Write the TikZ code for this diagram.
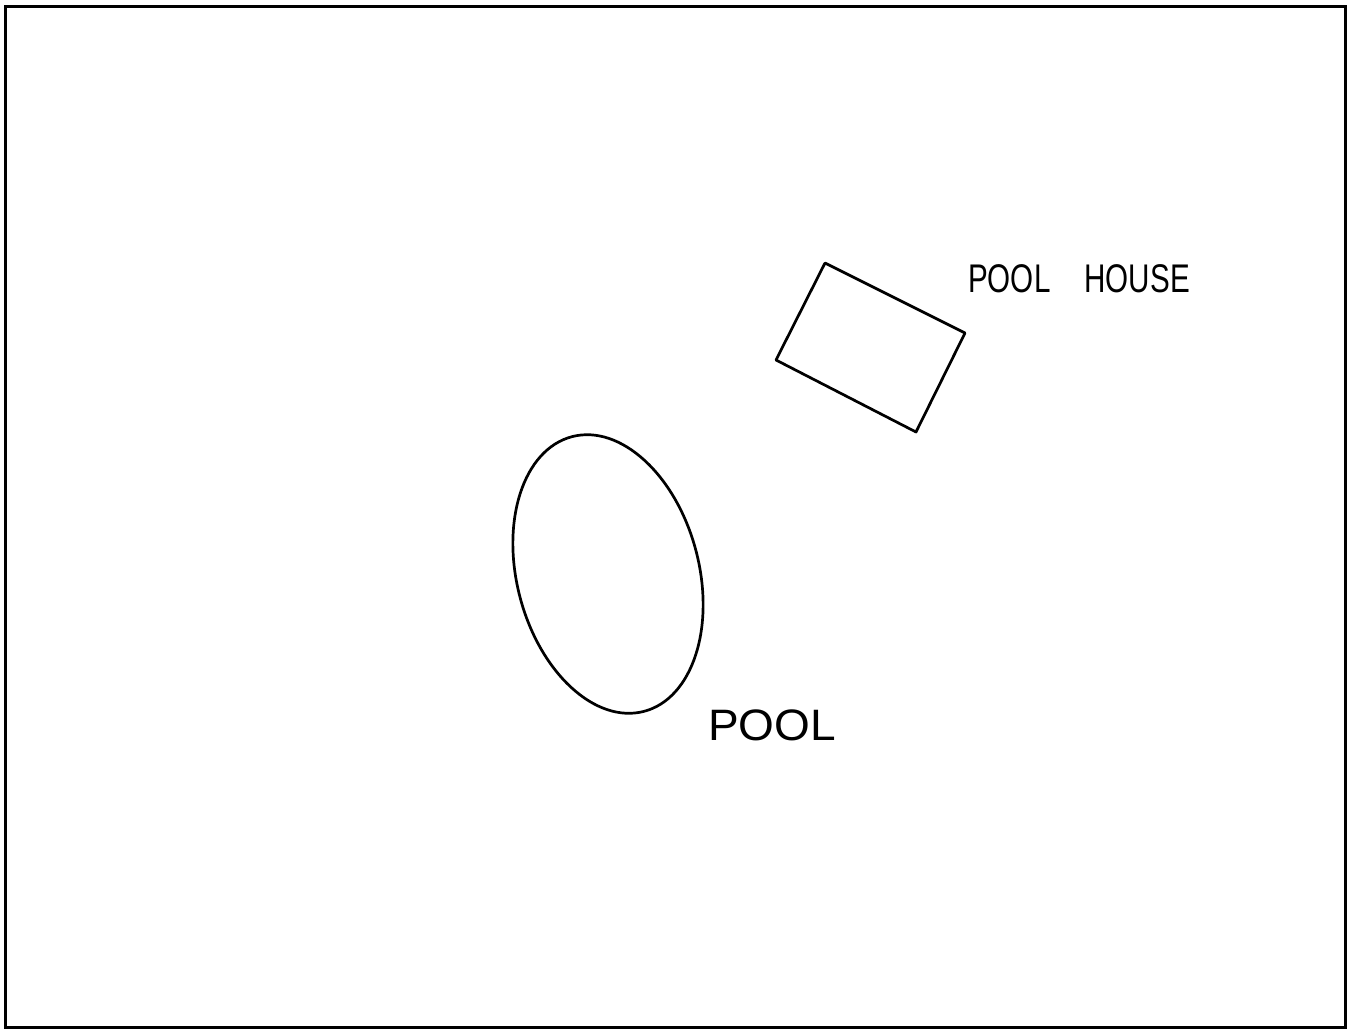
\documentclass[tikz,border=0pt]{standalone}
\usepackage{fontspec}
\setmainfont{Liberation Sans}
\begin{document}
\begin{tikzpicture}[x=1pt,y=-1pt,
  shapeline/.style={draw=black, line width=2.7pt, line join=round},
  hand/.style={inner sep=0pt, anchor=base west, font=\fontsize{40}{40}\selectfont}]
\useasboundingbox[fill=white] (0,0) rectangle (1347,1029);
% frame
\draw[line width=3pt] (5,6) rectangle (1345,1027);
% pool house
\draw[shapeline] (825,263) -- (965,333) -- (916,432) -- (776,360) -- cycle;
% pool
\draw[shapeline, rotate around={14.7:(608,574)}] (608,574) ellipse [x radius=91, y radius=142];
% labels
\node[hand] (lblhouse) at (968,292) {\scalebox{0.74}[1]{POOL\hspace{46pt}HOUSE}};
\node[hand] (lblpool) at (708,740) {\scalebox{1.15}[1.1]{POOL}};
\end{tikzpicture}
\end{document}
